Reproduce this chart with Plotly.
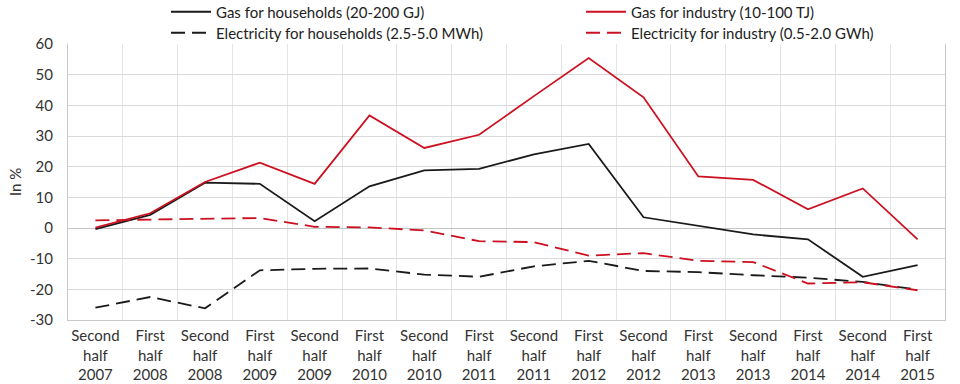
import plotly.graph_objects as go

categories = [
    "Second<br>half<br>2007", "First<br>half<br>2008", "Second<br>half<br>2008",
    "First<br>half<br>2009", "Second<br>half<br>2009", "First<br>half<br>2010",
    "Second<br>half<br>2010", "First<br>half<br>2011", "Second<br>half<br>2011",
    "First<br>half<br>2012", "Second<br>half<br>2012", "First<br>half<br>2013",
    "Second<br>half<br>2013", "First<br>half<br>2014", "Second<br>half<br>2014",
    "First<br>half<br>2015",
]

gas_households = [-0.4, 4.3, 14.8, 14.4, 2.2, 13.6, 18.8, 19.3, 24.0, 27.4,
                  3.5, 0.7, -2.1, -3.7, -15.9, -12.1]
gas_industry = [0.1, 4.8, 15.0, 21.3, 14.4, 36.7, 26.1, 30.4, 43.0, 55.4,
                42.6, 16.8, 15.7, 6.1, 12.9, -3.7]
elec_households = [-26.0, -22.5, -26.2, -13.8, -13.3, -13.2, -15.2, -15.9, -12.5, -10.7,
                   -14.0, -14.4, -15.4, -16.2, -17.6, -20.1]
elec_industry = [2.5, 2.7, 2.9, 3.25, 0.4, 0.2, -0.8, -4.3, -4.6, -9.0,
                 -8.2, -10.7, -11.1, -18.1, -17.7, -20.3]

names = [
    "Gas for households (20-200 GJ)",
    "Gas for industry (10-100 TJ)",
    "Electricity for households (2.5-5.0 MWh)",
    "Electricity for industry (0.5-2.0 GWh)",
]

y_tickvals = [-30, -20, -10, 0, 10, 20, 30, 40, 50, 60]
y_ticktext = ["-30", "-20", "-10", "0", "10", "20", "30", "40", "50", "60"]

BLACK = "#1a1a1a"
RED = "#cc1020"
FONT = "Lato"
TXT = "#333333"

fig = go.Figure()
fig.add_trace(go.Scatter(x=categories, y=gas_households, name=names[0], mode="lines",
                         line=dict(color=BLACK, width=1.8), legend="legend"))
fig.add_trace(go.Scatter(x=categories, y=gas_industry, name=names[1], mode="lines",
                         line=dict(color=RED, width=1.8), legend="legend2"))
fig.add_trace(go.Scatter(x=categories, y=elec_households, name=names[2], mode="lines",
                         line=dict(color=BLACK, width=1.8, dash="14px,7px"), legend="legend3"))
fig.add_trace(go.Scatter(x=categories, y=elec_industry, name=names[3], mode="lines",
                         line=dict(color=RED, width=1.8, dash="14px,7px"), legend="legend4"))

# hide most of the top gridline (covered by the legend in the original)
fig.add_shape(type="line", xref="paper", yref="y", x0=(112 - 68) / 877, x1=(944 - 68) / 877,
              y0=60, y1=60, line=dict(color="white", width=2), layer="between")

# y axis title
fig.add_annotation(text="In %", xref="paper", yref="paper", x=(15 - 68) / 877, y=0.5,
                   xanchor="center", yanchor="middle", textangle=-90, showarrow=False,
                   font=dict(family=FONT, size=15, color=TXT))

legend_common = dict(
    orientation="v", xref="container", yref="paper", xanchor="left", yanchor="middle",
    bgcolor="rgba(0,0,0,0)", font=dict(family=FONT, size=15, color="#222222"),
    tracegroupgap=0, itemwidth=40,
)

def ypix(p):
    return (320 - p) / 276

fig.update_layout(
    width=960, height=384,
    margin=dict(l=68, r=15, t=44, b=64, autoexpand=False),
    paper_bgcolor="white", plot_bgcolor="white",
    font=dict(family=FONT, size=15, color=TXT),
    showlegend=True,
    legend=dict(x=166 / 960, y=ypix(12), **legend_common),
    legend2=dict(x=581 / 960, y=ypix(12), **legend_common),
    legend3=dict(x=166 / 960, y=ypix(33), **legend_common),
    legend4=dict(x=581 / 960, y=ypix(33), **legend_common),
    xaxis=dict(
        type="category", tickson="boundaries", showgrid=True, gridcolor="#e4e4e4", gridwidth=1,
        showline=True, linecolor="#c8c8c8", linewidth=1, ticks="",
        tickfont=dict(family=FONT, size=15, color=TXT), tickangle=0,
        range=[-0.5, 15.5], fixedrange=True, automargin=False, ticklabelstandoff=2,
    ),
    yaxis=dict(
        range=[-30, 60], tickmode="array", tickvals=y_tickvals, ticktext=y_ticktext,
        showgrid=True, gridcolor="#dadada", gridwidth=1,
        zeroline=True, zerolinecolor="#c4c4c4", zerolinewidth=1,
        showline=True, linecolor="#c8c8c8", linewidth=1, mirror=True, ticks="",
        tickfont=dict(family=FONT, size=15, color=TXT),
        ticklabelstandoff=11, automargin=False,
    ),
)

fig.write_html("out.html", config={"displayModeBar": False},
               post_script="document.body.style.margin='0';")
